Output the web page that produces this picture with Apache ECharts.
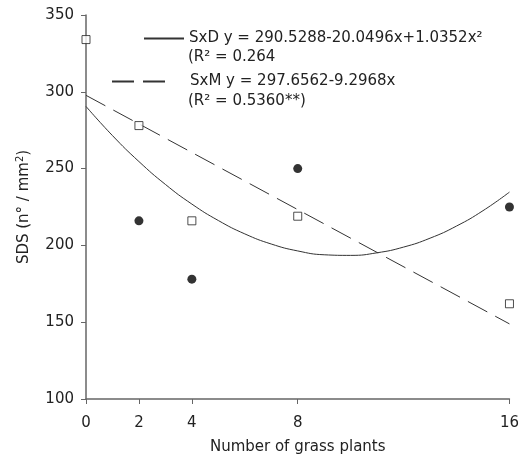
<!DOCTYPE html>
<html>
<head>
<meta charset="utf-8">
<script src="https://cdn.jsdelivr.net/npm/echarts@6/dist/echarts.min.js"></script>
<style>html,body{margin:0;padding:0;background:#fff}#c{width:522px;height:462px}</style>
</head>
<body>
<div id="c"></div>
<script>
// ---- data ----
var xTicks = [0, 2, 4, 8, 16];
var sxdX = [2, 4, 8, 16];
var sxdY = [216, 178, 250, 225];
var sxmX = [0, 2, 4, 8, 16];
var sxmY = [334, 278, 216, 219, 162];
var fitDX = [0, 1, 2, 3, 4, 5, 6, 7, 8, 9, 10, 11, 12, 13, 14, 15, 16];
var fitDY = [290.5, 271.5, 254.6, 239.7, 226.9, 216.2, 207.5, 200.9, 196.4, 193.9, 193.5, 195.2, 198.9, 204.7, 212.6, 222.6, 234.7];
var fitMX = [0, 16];
var fitMY = [297.7, 148.9];
var labelD1 = 'SxD y = 290.5288-20.0496x+1.0352x²';
var labelD2 = '(R² = 0.264';
var labelM1 = 'SxM y = 297.6562-9.2968x';
var labelM2 = '(R² = 0.5360**)';

function pairs(xs, ys) { return xs.map(function (x, i) { return [x, ys[i]]; }); }

var FONT = 'DejaVu Sans, Liberation Sans, Arial, sans-serif';
var FS = 15;
var TXT = '#222';
var AX = '#666';

var chart = echarts.init(document.getElementById('c'), null, { renderer: 'canvas' });
chart.setOption({
  animation: false,
  backgroundColor: '#fff',
  textStyle: { fontFamily: FONT },
  grid: { left: 86, right: 9, top: 15, bottom: 63 },
  xAxis: {
    type: 'value', min: 0, max: 16,
    name: 'Number of grass plants', nameLocation: 'middle', nameGap: 41,
    nameTextStyle: { fontSize: FS, color: TXT, fontFamily: FONT },
    axisLine: { lineStyle: { color: AX, width: 1.5 } },
    axisTick: { show: true, length: 5, lineStyle: { color: AX }, customValues: xTicks },
    axisLabel: { fontSize: FS, color: TXT, margin: 17, customValues: xTicks, fontFamily: FONT },
    splitLine: { show: false }
  },
  yAxis: {
    type: 'value', min: 100, max: 350, interval: 50,
    name: '{a|SDS (n° / mm}{s|2}{a|)}', nameLocation: 'middle', nameGap: 53,
    nameTextStyle: {
      rich: {
        a: { fontSize: FS, color: TXT, fontFamily: FONT },
        s: { fontSize: 10, color: TXT, fontFamily: FONT, verticalAlign: 'top', padding: [0, 0, 8, 0] }
      }
    },
    axisLine: { show: true, lineStyle: { color: AX, width: 1.5 } },
    axisTick: { show: true, length: 5, lineStyle: { color: AX } },
    axisLabel: { fontSize: FS, color: TXT, margin: 12, fontFamily: FONT },
    splitLine: { show: false }
  },
  legend: [
    {
      data: ['SxD'], left: 138, top: 26, itemWidth: 40, itemHeight: 14,
      itemStyle: { opacity: 0 },
      formatter: function () { return labelD1; },
      textStyle: { fontSize: FS, color: TXT, fontFamily: FONT, padding: [0, 0, 0, 0] }
    },
    {
      data: ['SxM'], left: 106, top: 69, itemWidth: 59, itemHeight: 14,
      itemStyle: { opacity: 0 },
      formatter: function () { return labelM1; },
      textStyle: { fontSize: FS, color: TXT, fontFamily: FONT, padding: [0, 0, 0, 14] }
    }
  ],
  graphic: [
    { type: 'text', left: 188, top: 50, style: { text: labelD2, fontSize: FS, fill: TXT, fontFamily: FONT } },
    { type: 'text', left: 188, top: 94, style: { text: labelM2, fontSize: FS, fill: TXT, fontFamily: FONT } }
  ],
  series: [
    {
      name: 'SxD', type: 'line', data: pairs(fitDX, fitDY), smooth: true, symbol: 'none',
      lineStyle: { color: '#333', width: 1 }, itemStyle: { color: '#333' }, z: 2
    },
    {
      name: 'SxM', type: 'line', data: pairs(fitMX, fitMY), symbol: 'none',
      lineStyle: { color: '#333', width: 1, type: [22, 9] }, itemStyle: { color: '#333' }, z: 2
    },
    {
      name: 'SxD pts', type: 'scatter', data: pairs(sxdX, sxdY), symbol: 'circle', symbolSize: 9,
      itemStyle: { color: '#000' }, z: 3
    },
    {
      name: 'SxM pts', type: 'scatter', data: pairs(sxmX, sxmY), symbol: 'rect', symbolSize: 8,
      itemStyle: { color: '#fff', borderColor: '#222', borderWidth: 1 }, z: 3
    }
  ]
});
</script>
</body>
</html>
